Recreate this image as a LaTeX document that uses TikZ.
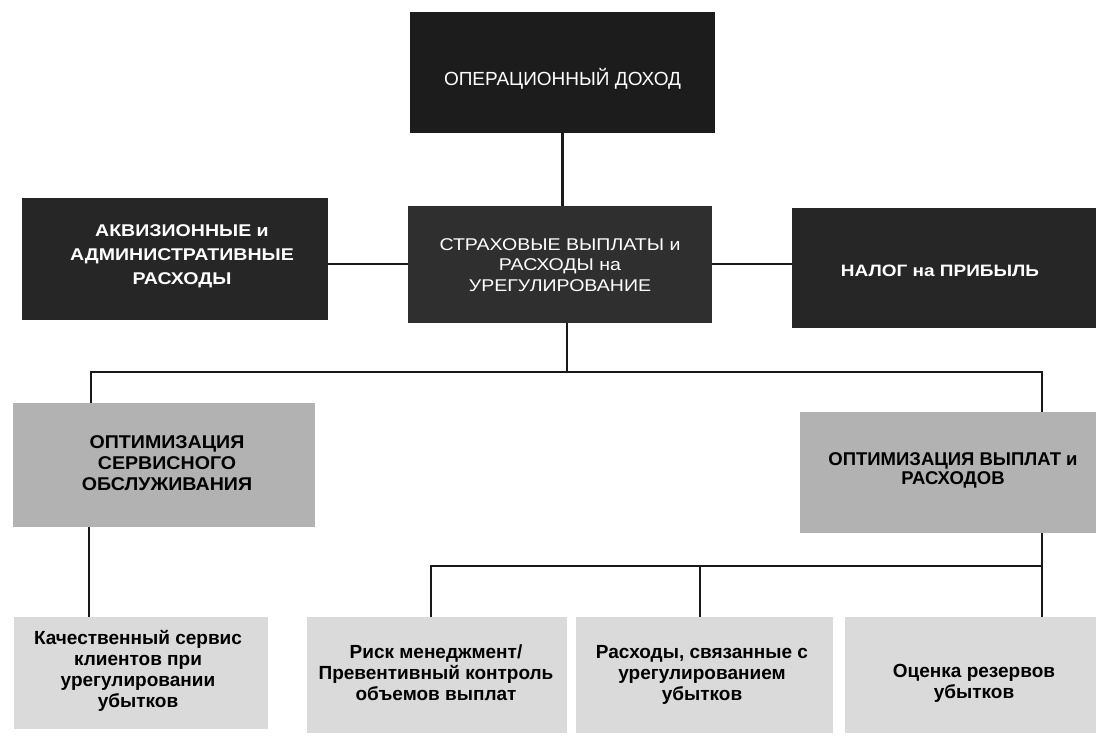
\documentclass[tikz,border=0pt]{standalone}
\usepackage{fontspec}
\setmainfont{Liberation Sans}
\newfontfamily\stretchB[FakeStretch=1.15]{Liberation Sans}
\newfontfamily\stretchC[FakeStretch=1.06]{Liberation Sans}
\usetikzlibrary{calc}
\definecolor{boxdark}{HTML}{1C1C1C}
\definecolor{boxside}{HTML}{262626}
\definecolor{boxmid}{HTML}{2F2F2F}
\definecolor{boxgray}{HTML}{B2B2B2}
\definecolor{boxlight}{HTML}{DADADA}
\begin{document}
\begin{tikzpicture}[x=1pt,y=-1pt,
  boxbase/.style={draw=none, inner sep=0pt, outer sep=0pt},
  darkbox/.style={boxbase, fill=boxdark},
  sidebox/.style={boxbase, fill=boxside},
  midbox/.style={boxbase, fill=boxmid},
  graybox/.style={boxbase, fill=boxgray},
  lightbox/.style={boxbase, fill=boxlight},
  conn/.style={line width=2.6pt, draw=black!90},
  wtxt/.style={text=white, align=center, inner sep=0pt},
  btxt/.style={text=black, align=center, inner sep=0pt},
  smallbold/.style={font=\bfseries\fontsize{19}{21}\selectfont}]
\useasboundingbox (0,0) rectangle (1096,736);
\fill[white] (0,0) rectangle (1096,736);

% boxes
\node[darkbox, minimum width=305pt, minimum height=121pt] (top) at (562.5,72.5) {};
\node[sidebox, minimum width=306pt, minimum height=122pt] (acq) at (175,259) {};
\node[midbox, minimum width=304pt, minimum height=117pt] (claims) at (560,264) {};
\node[sidebox, minimum width=304pt, minimum height=120pt] (tax) at (944,268) {};
\node[graybox, minimum width=302pt, minimum height=124pt] (optL) at (164,465) {};
\node[graybox, minimum width=296pt, minimum height=121pt] (optR) at (948,472.5) {};
\node[lightbox, minimum width=254pt, minimum height=112pt] (b1) at (141,673) {};
\node[lightbox, minimum width=260pt, minimum height=116pt] (b2) at (437,675) {};
\node[lightbox, minimum width=257pt, minimum height=116pt] (b3) at (704.5,675) {};
\node[lightbox, minimum width=251pt, minimum height=116pt] (b4) at (970.5,675) {};

% texts
\node[wtxt, font=\fontsize{19}{21}\selectfont] (topt) at (562.5,79) {ОПЕРАЦИОННЫЙ ДОХОД};
\node[wtxt, font=\stretchB\bfseries\fontsize{17}{24}\selectfont] (acqt) at (182,256) {АКВИЗИОННЫЕ и\\АДМИНИСТРАТИВНЫЕ\\РАСХОДЫ};
\node[wtxt, font=\stretchB\fontsize{17}{20.5}\selectfont] (claimst) at (560,265) {СТРАХОВЫЕ ВЫПЛАТЫ и\\РАСХОДЫ на\\УРЕГУЛИРОВАНИЕ};
\node[wtxt, font=\stretchB\bfseries\fontsize{16.5}{18}\selectfont] (taxt) at (940,271) {НАЛОГ на ПРИБЫЛЬ};
\node[btxt, font=\stretchC\bfseries\fontsize{18.5}{21}\selectfont] (optLt) at (167,463) {ОПТИМИЗАЦИЯ\\СЕРВИСНОГО\\ОБСЛУЖИВАНИЯ};
\node[btxt, font=\bfseries\fontsize{18.5}{19}\selectfont] (optRt) at (953,470) {ОПТИМИЗАЦИЯ ВЫПЛАТ и\\РАСХОДОВ};
\node[btxt, smallbold] (b1t) at (138,671) {Качественный сервис\\клиентов при\\урегулировании\\убытков};
\node[btxt, smallbold] (b2t) at (436,673) {Риск менеджмент/\\Превентивный контроль\\объемов выплат};
\node[btxt, smallbold] (b3t) at (702,675) {Расходы, связанные с\\урегулированием\\убытков};
\node[btxt, smallbold] (b4t) at (974,683) {Оценка резервов\\убытков};

% junction coordinates
\coordinate (j0) at (567,372);
\coordinate (jL) at (91,372);
\coordinate (jR) at (1042,372);
\coordinate (cL) at (89,575);
\coordinate (h1) at (431,566);
\coordinate (h2) at (700,566);
\coordinate (h3) at (1042,566);

% connectors
\draw[conn] (top.south) -- (top.south |- claims.north);
\draw[conn] (claims.west) -- (claims.west -| acq.east);
\draw[conn] (claims.east) -- (claims.east -| tax.west);
\draw[conn] (j0 |- claims.south) -- (j0);
\draw[conn] (jL |- optL.north) -- (jL) -- (jR) -- (jR |- optR.north);
\draw[conn] (cL |- optL.south) -- (cL |- b1.north);
\draw[conn] (h3 |- optR.south) -- (h3) -- (h1) -- (h1 |- b2.north);
\draw[conn] (h2) -- (h2 |- b3.north);
\draw[conn] (h3) -- (h3 |- b4.north);
\end{tikzpicture}
\end{document}
